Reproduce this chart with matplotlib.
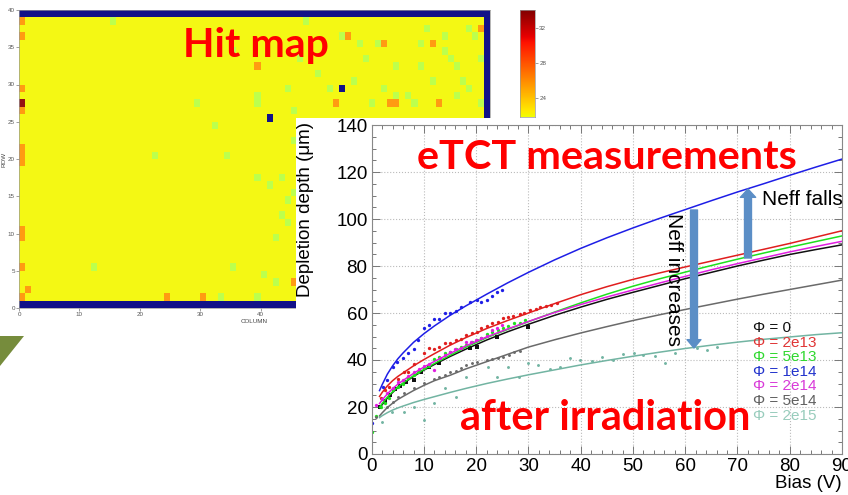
import numpy as np
import matplotlib.pyplot as plt
from matplotlib.patches import Rectangle, Polygon, FancyArrowPatch
from matplotlib.colors import ListedColormap

plt.rcParams['font.family'] = ['Liberation Sans', 'DejaVu Sans']

W, H = 848, 495

# ---- hit map data (column, row) ----
n_cols, n_rows = 78, 40
base_hits = 22.0
green_cells = [(15, 38), (35, 34), (44, 29), (39, 28), (39, 27), (29, 27), (45, 26), (32, 24),
               (45, 22), (22, 20), (34, 20), (39, 17), (41, 16), (43, 17), (45, 15), (44, 14),
               (43, 12), (44, 11), (42, 9), (12, 5), (35, 5), (40, 4), (42, 3), (33, 1), (39, 1),
               (47, 38), (53, 36), (56, 35), (59, 35), (66, 35), (67, 37), (70, 34), (71, 33),
               (72, 32), (74, 37), (75, 36), (57, 33), (62, 32), (66, 32), (55, 30), (60, 29),
               (62, 28), (64, 28), (58, 27), (65, 27), (72, 28), (76, 27), (49, 31), (51, 29),
               (73, 30), (74, 29), (68, 30), (46, 33), (70, 36), (76, 33)]
green_hits = 19.5
orange_cells = [(0, 38), (0, 36), (0, 29), (0, 26), (0, 21), (0, 20), (0, 19), (0, 10), (0, 9),
                (0, 5), (0, 1), (1, 2), (39, 32), (24, 1), (30, 1), (45, 3), (54, 36), (60, 35),
                (68, 35), (76, 37), (52, 27), (61, 27), (62, 27), (69, 27)]
orange_hits = 25.5
hot_cells = [(0, 27)]
hot_hits = 33.5
dead_cells = [(41, 25), (53, 29)]

# ---- depletion depth data ----
fit_v = [1.5, 2, 3, 4, 5, 6, 8, 10, 12, 15, 18, 22, 26, 30, 35, 40, 45, 50, 55, 60, 65, 70, 75, 80, 85, 90]
fit_blue = [27, 29.5, 34, 37.5, 40.5, 43, 47.5, 51.2, 54.5, 59, 63, 68, 72.8, 77.3, 82.6, 87.5, 92,
            96.2, 100.2, 104, 107.8, 111.5, 115, 118.6, 122.1, 125.5]
fit_red = [24.5, 26.2, 29, 31.2, 33, 34.5, 37.5, 40.2, 42.7, 46.3, 49.5, 53.4, 56.8, 60, 64, 67.8,
           71.2, 74.3, 77, 79.6, 82.1, 84.6, 87.1, 89.6, 92.3, 95]
fit_green = [19.8, 21.5, 24.2, 26.5, 28.5, 30.2, 33.3, 36, 38.5, 42, 45.4, 49.5, 53, 56.3, 60.4, 64.3,
             68, 71.4, 74.5, 77.4, 80.2, 82.9, 85.5, 88, 90.4, 92.8]
fit_magenta = [21.5, 23, 25.6, 27.8, 29.7, 31.3, 34.3, 37, 39.4, 42.8, 46, 49.8, 53.2, 56.4, 60.2, 63.6,
               66.8, 69.8, 72.7, 75.6, 78.4, 81, 83.5, 86, 88.3, 90.5]
fit_black = [19.5, 21, 23.8, 26.2, 28.2, 30, 33, 35.7, 38.1, 41.5, 44.6, 48.5, 52, 55.2, 59, 62.5,
             65.8, 68.8, 71.7, 74.6, 77.3, 80, 82.5, 84.9, 87, 89]
fit_gray = [16.2, 17.5, 19.8, 21.6, 23.2, 24.5, 27, 29.2, 31.2, 33.5, 36.2, 39.3, 42.4, 45.5, 48.6,
            51.5, 54.2, 56.8, 59.2, 61.5, 63.7, 65.9, 68, 70, 72, 74]
fit_teal = [15.5, 16.3, 17.6, 18.7, 19.6, 20.4, 21.9, 23.2, 24.4, 26.2, 27.9, 30, 31.9, 33.7, 35.8,
            37.9, 39.8, 41.6, 43.3, 44.9, 46.3, 47.6, 48.8, 49.8, 50.8, 51.6]

blue_v = [0, 2.1, 2.9, 4.0, 4.9, 5.9, 7.0, 8.0, 8.9, 10.0, 11.0, 11.9, 12.9, 14.0, 15.0, 16.1, 17.0,
          18.8, 20.1, 21.0, 22.0, 23.0, 23.9, 25.0]
blue_d = [13.0, 28.7, 31.5, 36.9, 39.3, 40.7, 42.8, 44.5, 48.5, 53.5, 54.9, 57.3, 57.3, 59.9, 60.1,
          61.0, 62.7, 64.8, 65.5, 64.8, 65.5, 67.4, 69.1, 69.8]
red_v = [1.7, 2.6, 3.4, 5.1, 6.1, 7.0, 8.1, 10.0, 11.0, 11.9, 12.9, 14.0, 15.0, 16.1, 17.0, 18.0,
         19.1, 20.1, 21.0, 22.1, 23.1, 24.2, 25.1, 26.1, 27.1, 28.3, 29.1, 30.3, 31.4, 32.3, 33.4,
         34.4, 35.4]
red_d = [23.7, 27.2, 28.7, 31.8, 35.0, 35.0, 38.3, 42.8, 45.0, 44.5, 45.7, 47.1, 47.4, 48.5, 48.8,
         50.6, 51.3, 52.1, 53.5, 54.5, 55.6, 56.3, 57.7, 58.4, 58.7, 59.6, 60.1, 61.3, 61.6, 62.4,
         63.0, 63.4, 64.1]
magenta_v = [0.8, 2.0, 3.0, 4.0, 5.1, 6.0, 7.0, 8.0, 9.0, 10.0, 11.0, 11.9, 13.0, 14.0, 15.0, 16.0,
             17.0, 18.0, 19.0, 20.0, 21.0, 22.0, 23.0, 23.9, 24.9]
magenta_d = [20.9, 23.5, 26.0, 28.0, 30.8, 31.5, 33.0, 34.8, 36.0, 37.3, 38.5, 35.7, 41.0, 42.0,
             43.2, 44.5, 45.0, 47.8, 47.5, 48.6, 49.5, 50.3, 52.8, 53.5, 54.9]
green_v = [0, 0.8, 1.7, 2.6, 3.4, 4.1, 5.1, 6.0, 7.0, 8.0, 8.9, 10.0, 11.0, 11.9, 12.9, 14.0, 15.0,
           16.1, 17.0, 18.0, 19.1, 20.1, 21.0, 22.1, 23.1, 24.2, 25.2, 26.1, 27.2, 28.3, 29.3]
green_d = [9.5, 16.2, 20.1, 21.6, 24.0, 27.2, 28.7, 30.0, 32.2, 33.6, 35.0, 36.5, 37.5, 40.3, 41.4,
           42.8, 43.5, 44.5, 45.4, 46.4, 47.8, 48.5, 49.2, 51.1, 52.1, 52.8, 53.5, 54.5, 55.6,
           55.9, 57.0]
black_v = [1.5, 2.5, 3.5, 4.5, 5.5, 6.5, 8.1, 9.5, 11.0, 12.9, 18.8, 20.1, 23.9, 30.0]
black_d = [20.0, 22.5, 25.0, 27.5, 29.0, 30.5, 31.5, 35.0, 37.0, 38.9, 45.0, 45.7, 49.7, 54.2]
gray_v = [0.8, 2.9, 4.0, 5.1, 6.1, 8.1, 10.0, 11.9, 12.9, 14.0, 15.0, 16.1, 17.0, 18.0, 19.1, 20.1,
          22.1, 23.1, 24.2, 25.2, 26.2, 27.2, 28.3]
gray_d = [15.9, 20.1, 22.0, 24.1, 25.8, 27.9, 30.1, 31.8, 32.9, 33.5, 35.0, 35.3, 36.5, 37.9, 38.6,
          39.3, 40.0, 40.3, 40.7, 41.4, 42.3, 43.5, 43.8]
teal_v = [1.9, 3.8, 6.1, 8.0, 10.0, 12.0, 14.0, 16.1, 18.0, 22.3, 23.9, 26.1, 28.1, 30.0, 31.9, 34.1,
          36.0, 37.9, 39.9, 42.1, 44.0, 46.2, 48.1, 50.1, 52.0, 54.2, 56.1, 58.0, 62.2, 64.1, 66.0]
teal_d = [13.8, 18.0, 18.0, 19.9, 14.5, 21.6, 27.9, 24.4, 32.6, 36.9, 32.9, 37.2, 32.9, 38.6, 37.9,
          36.0, 37.2, 41.0, 40.0, 39.6, 41.4, 40.0, 42.6, 42.8, 42.1, 41.7, 38.9, 43.1, 45.0, 44.3,
          45.7]

phi_labels = ['Φ = 0', 'Φ = 2e13', 'Φ = 5e13', 'Φ = 1e14', 'Φ = 2e14', 'Φ = 5e14', 'Φ = 2e15']
label_colors = ['#111111', '#e03535', '#2fd82f', '#2233cc', '#d83ad8', '#606060', '#98ccbc']


def fx(x):
    return x / W


def fy(y):
    return 1 - y / H


def box(x0, y0, x1, y1):
    return [x0 / W, 1 - y1 / H, (x1 - x0) / W, (y1 - y0) / H]


fig = plt.figure(figsize=(W / 100, H / 100), dpi=100)

# hit map
hits = np.full((n_rows, n_cols), base_hits)
for c, r in green_cells:
    hits[r, c] = green_hits
for c, r in orange_cells:
    hits[r, c] = orange_hits
for c, r in hot_cells:
    hits[r, c] = hot_hits
for c, r in dead_cells:
    hits[r, c] = 0
hits[0, :] = 0
hits[-1, :] = 0
hits[:, -1] = 0

ax_hm = fig.add_axes(box(19, 10, 490, 308), zorder=0)
ax_hm.imshow(hits, cmap='jet', vmin=0, vmax=34, origin='lower', alpha=0.93,
             extent=(0, n_cols, 0, n_rows), aspect='auto', interpolation='nearest')
ax_hm.set_xticks(range(0, 80, 10))
ax_hm.set_yticks(range(0, 45, 5))
ax_hm.tick_params(labelsize=4.5, length=2, width=0.4, pad=1, colors='#555555')
ax_hm.set_xlabel('COLUMN', fontsize=4.5, color='#444444', labelpad=1)
ax_hm.set_ylabel('ROW', fontsize=4.5, color='#444444', labelpad=1)
for s in ax_hm.spines.values():
    s.set_color('#999999')
    s.set_linewidth(0.5)

# colour bar (upper part of jet)
ax_cb = fig.add_axes(box(520, 10, 535, 117), zorder=0)
cb_cmap = ListedColormap(plt.cm.jet(np.linspace(21.8 / 34, 1, 256)))
ax_cb.imshow(np.linspace(0, 1, 256)[:, None], cmap=cb_cmap, origin='lower',
             extent=(0, 1, 21.8, 34), aspect='auto')
ax_cb.set_xticks([])
ax_cb.yaxis.tick_right()
ax_cb.set_yticks([24, 28, 32])
ax_cb.tick_params(labelsize=4.5, length=2, width=0.4, pad=1, colors='#555555')
for s in ax_cb.spines.values():
    s.set_color('#999999')
    s.set_linewidth(0.5)

# white panel for the eTCT plot
fig.add_artist(Rectangle((fx(296), 0), 1 - fx(296), fy(118), transform=fig.transFigure,
                         facecolor='white', edgecolor='none', zorder=1))

# green triangle at the left
fig.add_artist(Polygon([(0, fy(336)), (fx(24), fy(336)), (0, fy(366))], closed=True,
                       transform=fig.transFigure, facecolor='#768c3c', edgecolor='none', zorder=1))

# eTCT plot
ax = fig.add_axes(box(371.7, 125, 842, 454), zorder=2)
ax.set_xlim(0, 90)
ax.set_ylim(0, 140)
ax.set_xticks(range(0, 100, 10))
ax.set_xticks(range(0, 91, 2), minor=True)
ax.set_yticks(range(0, 160, 20))
ax.set_yticks(range(0, 141, 5), minor=True)
ax.tick_params(which='both', direction='in', top=True, right=True, color='#777777', width=0.7)
ax.tick_params(which='major', length=6, labelsize=13.5, pad=3)
ax.tick_params(which='minor', length=3)
ax.grid(True, which='major', linestyle=':', color='#bbbbbb', linewidth=0.8)
for s in ax.spines.values():
    s.set_color('#888888')
    s.set_linewidth(0.8)

series = [
    (fit_black, black_v, black_d, '#111111', 's', 2.3),
    (fit_red, red_v, red_d, '#e01e1e', 'o', 2.4),
    (fit_green, green_v, green_d, '#1ee01e', 'o', 2.4),
    (fit_blue, blue_v, blue_d, '#1e1ee6', 'o', 2.4),
    (fit_magenta, magenta_v, magenta_d, '#e01ee0', 'o', 2.4),
    (fit_gray, gray_v, gray_d, '#6a6a6a', 'o', 2.1),
    (fit_teal, teal_v, teal_d, '#72b4a2', 'o', 2.1),
]
for fit, pv, pd, col, mk, ms in series:
    ax.plot(fit_v, fit, color=col, lw=1.1)
    ax.plot(pv, pd, linestyle='none', marker=mk, markersize=ms, color=col, markeredgewidth=0)

fig.text(fx(305), fy(122), 'Depletion depth (μm)', rotation=90, ha='center', va='top',
         fontsize=13.5, zorder=4)
fig.text(fx(842), fy(483), 'Bias (V)', ha='right', va='center', fontsize=13.5, zorder=4)

for i, (lab, col) in enumerate(zip(phi_labels, label_colors)):
    fig.text(fx(753), fy(328 + 14.6 * i), lab, color=col, ha='left', va='center',
             fontsize=11, zorder=4)

# arrows and annotations
arrow_col = '#5b8ec6'
fig.add_artist(FancyArrowPatch((fx(694), fy(210)), (fx(694), fy(348)), transform=fig.transFigure,
                               arrowstyle='simple,head_length=6,head_width=10,tail_width=5',
                               mutation_scale=1, shrinkA=0, shrinkB=0, color=arrow_col, zorder=4))
fig.add_artist(FancyArrowPatch((fx(748), fy(258)), (fx(748), fy(189)), transform=fig.transFigure,
                               arrowstyle='simple,head_length=6,head_width=11,tail_width=5',
                               mutation_scale=1, shrinkA=0, shrinkB=0, color=arrow_col, zorder=4))
fig.text(fx(673), fy(213), 'Neff increases', rotation=-90, ha='center', va='top',
         fontsize=15, zorder=5)
fig.text(fx(762), fy(200), 'Neff falls', ha='left', va='center', fontsize=15, zorder=5)

# slide titles
title_kw = dict(color='#ff0000', fontweight='bold', family='Lato', va='baseline', ha='left', zorder=6)
fig.text(fx(183), fy(57), 'Hit map', fontsize=29.5, **title_kw)
fig.text(fx(417), fy(169), 'eTCT measurements', fontsize=29.8, **title_kw)
fig.text(fx(460), fy(430), 'after irradiation', fontsize=30, **title_kw)

fig.savefig('out.png', dpi=100)
